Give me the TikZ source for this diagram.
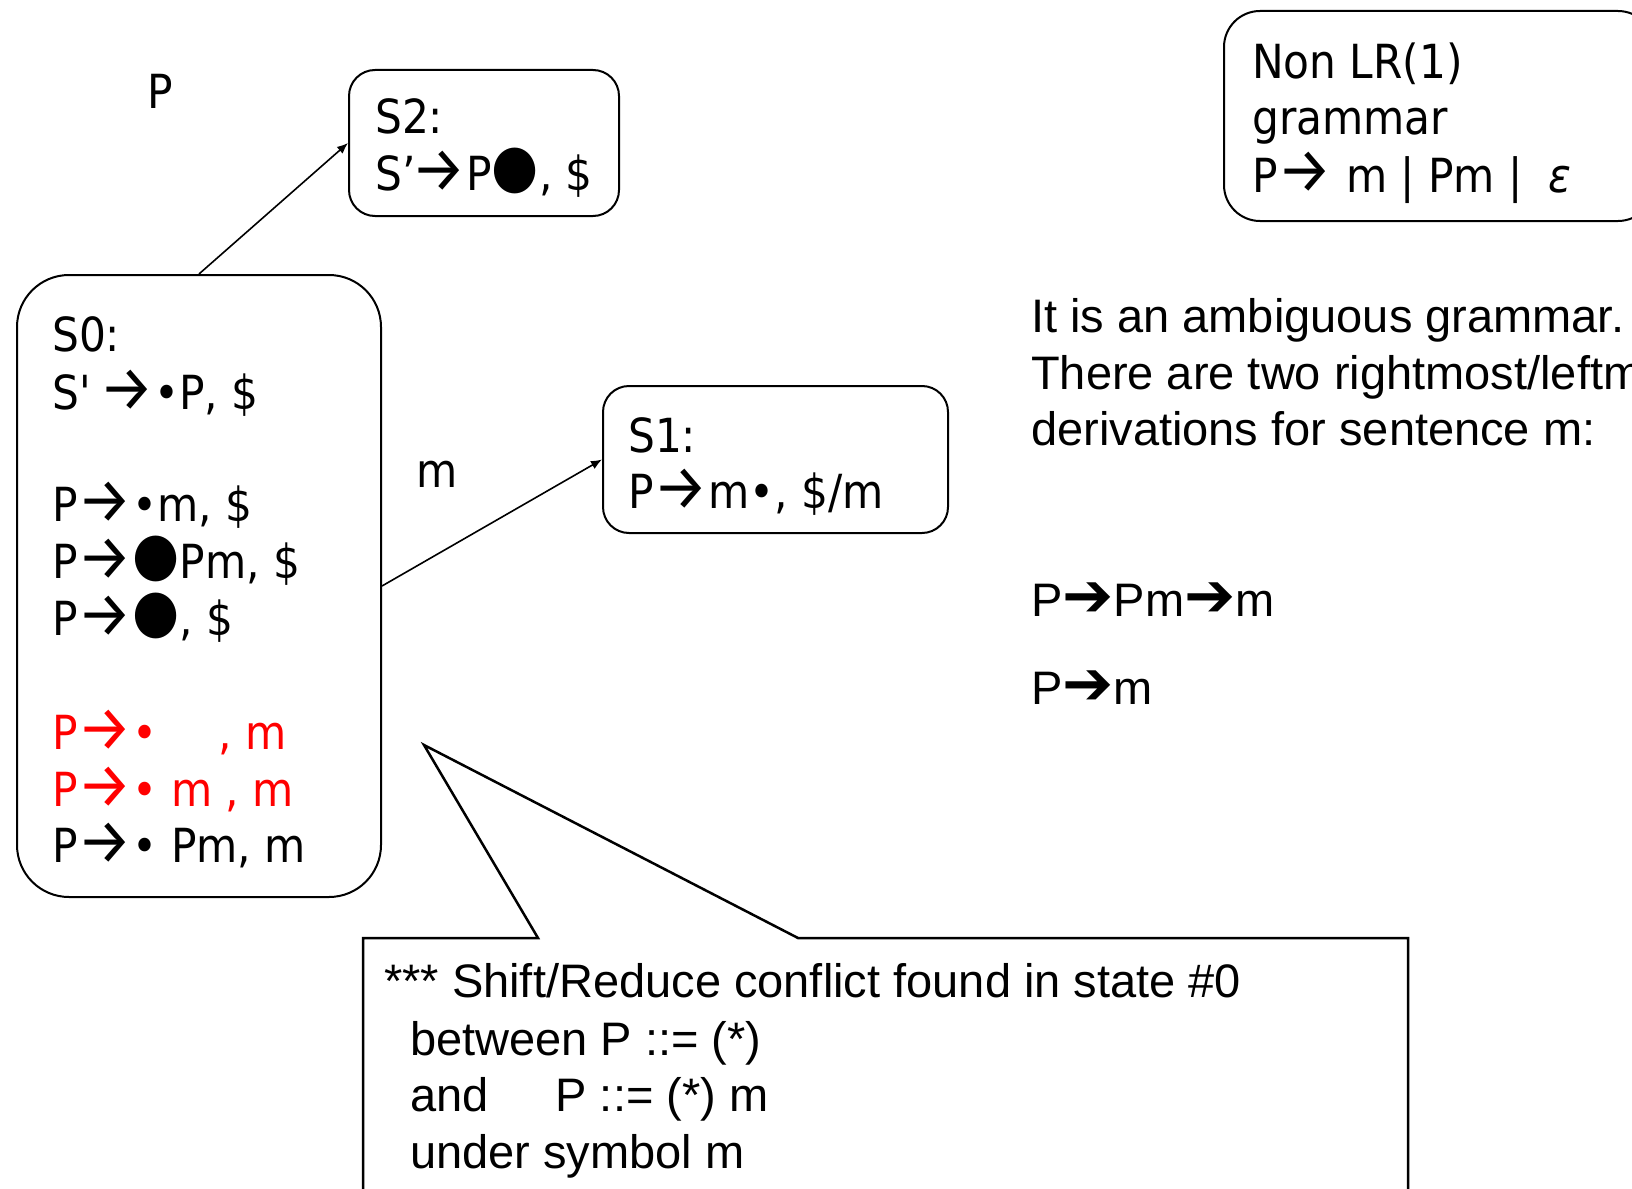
\documentclass[tikz,border=0pt]{standalone}
\usepackage{fontspec}
\setmainfont{Liberation Sans}
\newfontfamily\tah{DejaVu Sans Condensed}
\newfontfamily\dv{DejaVu Sans}
\newfontfamily\fira{Fira Sans}
\usetikzlibrary{arrows.meta}
\begin{document}
\begin{tikzpicture}[x=1pt,y=-1pt,
  box/.style={draw, line width=2pt, inner sep=0pt, anchor=north west},
  tt/.style={inner sep=0pt, anchor=base west, font=\tah\fontsize{47}{56}\selectfont},
  ar/.style={inner sep=0pt, anchor=base west, font=\fontsize{47}{56}\selectfont},
  red/.style={text=red},
  link/.style={line width=1.6pt, -{Latex[length=11pt,width=9pt]}}]
\useasboundingbox (0,0) rectangle (1632,1188);
\newcommand\bigdot{\raisebox{4pt}{\fontsize{60}{60}\selectfont ●}}
\newcommand\ra{\raisebox{-1pt}{\scalebox{1.3}[1.35]{\fira →}}}
\newcommand\hra{{\dv\scalebox{1.3}{➔}}}

% state boxes
\node[box, rounded corners=52pt, minimum width=364pt, minimum height=622pt] (s0) at (16,274) {};
\node[box, rounded corners=26pt, minimum width=270pt, minimum height=146pt] (s2) at (348,69) {};
\node[box, rounded corners=26pt, minimum width=345pt, minimum height=147pt] (s1) at (602,385) {};
\node[box, rounded corners=36pt, minimum width=430pt, minimum height=210pt] (g) at (1223,10) {};

% transitions
\draw[link] (s0.north) -- (s2.west);
\draw[link] (s0.east) -- (s1.west);
\node[tt] (lp) at (147,109) {P};
\node[tt] (lm) at (416,487) {m};

% S0 items
\node[tt] (a1) at (52,351) {S0:};
\node[tt] (a2) at (52,409) {S\textquotesingle{}\kern-5pt{} \ra•P, \$};
\node[tt] (a3) at (52,521) {P\ra•m, \$};
\node[tt] (a4) at (52,578) {P\ra\bigdot Pm, \$};
\node[tt] (a5) at (52,635) {P\ra\bigdot, \$};
\node[tt, red] (a6) at (52,749) {P\ra•};
\node[tt, red] (a6b) at (218,749) {, m};
\node[tt, red] (a7) at (52,806) {P\ra• m , m};
\node[tt] (a8) at (52,862) {P\ra• Pm, m};

% S2 and S1 items
\node[tt] (b1) at (375,133) {S2:};
\node[tt] (b2) at (375,190) {S’\kern-4pt\ra P\bigdot, \$};
\node[tt] (c1) at (628,452) {S1:};
\node[tt] (c2) at (628,508) {P\ra m•, \$/m};

% grammar
\node[tt] (g1) at (1252,79) {Non LR(1)};
\node[tt] (g2) at (1252,135) {grammar};
\node[tt] (g3) at (1252,192) {P\ra{} m | Pm |\hspace{26pt}{\itshape ε}};

% remarks
\node[ar] (r1) at (1031,332) {It is an ambiguous grammar.};
\node[ar] (r2) at (1031,389) {There are two rightmost/leftmost};
\node[ar] (r3) at (1031,445) {derivations for sentence m:};
\node[ar] (d1) at (1031,616) {P\hra Pm\hra m};
\node[ar] (d2) at (1031,704) {P\hra m};

% callout
\draw[line width=2.5pt, line join=miter] (363,1200) -- (363,938) -- (538,938) -- (424,745)
  -- (798,938) -- (1408,938) -- (1408,1200);
\node[ar] (k1) at (384,997) {*** Shift/Reduce conflict found in state \#0};
\node[ar] (k2) at (410,1055) {between P ::= (*)};
\node[ar] (k3) at (410,1111) {and\hspace{67pt}P ::= (*) m};
\node[ar] (k4) at (410,1168) {under symbol m};
\end{tikzpicture}
\end{document}
